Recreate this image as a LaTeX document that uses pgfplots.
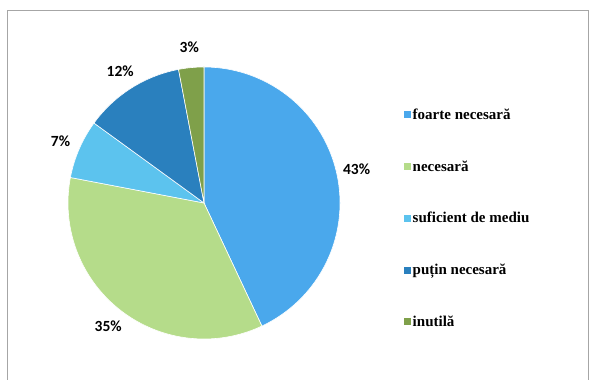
\documentclass[border=0pt]{standalone}
\usepackage{pgfplots}
\pgfplotsset{compat=1.18}
\usepackage{pgfplotstable}
\usepackage{fontspec}
\setmainfont{Liberation Serif}
\newfontfamily\pctfont{Carlito}
\definecolor{slice0}{HTML}{4AA8EC}
\definecolor{slice1}{HTML}{B5DC8A}
\definecolor{slice2}{HTML}{5CC3EE}
\definecolor{slice3}{HTML}{2A80BE}
\definecolor{slice4}{HTML}{7FA04A}
\pgfplotstableread{
value
43
35
7
12
3
}\piedata
\begin{document}
\begin{tikzpicture}
\begin{axis}[
  width=590pt, height=380pt, scale only axis,
  xmin=-1.5, xmax=2.838, ymin=-1.3015, ymax=1.4926,
  hide axis, clip=false,
  legend style={at={(axis cs:1.445,0.723)}, anchor=north west, draw=none, fill=none,
    font=\bfseries\fontsize{15}{17}\selectfont, row sep=35.7pt},
  legend cell align=left,
  legend image code/.code={\fill[#1,draw=none] (0pt,-3.5pt) rectangle (7pt,3.5pt);},
]
\def\angstart{90}
\pgfplotsforeachungrouped \i in {0,...,4}{
  \pgfplotstablegetelem{\i}{value}\of\piedata
  \let\val\pgfplotsretval
  \pgfmathsetmacro\angend{\angstart-3.6*\val}
  \pgfmathsetmacro\mid{(\angstart+\angend)/2}
  \pgfmathsetmacro\lx{1.15*cos(\mid)}
  \pgfmathsetmacro\ly{1.15*sin(\mid)}
  \pgfmathtruncatemacro\ival{\val}
  \edef\temp{\noexpand\addplot[fill=slice\i, draw=white, line width=0.6pt, domain=\angend:\angstart, samples=80, variable=\noexpand\t] ({cos(\noexpand\t)},{sin(\noexpand\t)}) -- (axis cs:0,0) -- cycle;
    \noexpand\node[font=\noexpand\pctfont\noexpand\bfseries\noexpand\fontsize{15.5}{17}\noexpand\selectfont] at (axis cs:\lx,\ly) {\ival\noexpand\%};}
  \temp
  \let\angstart\angend
}
\legend{foarte necesară, necesară, suficient de mediu, puțin necesară, inutilă}
\draw[gray!70, line width=0.8pt] (rel axis cs:0.0119,0) -- (rel axis cs:0.0119,0.9737) -- (rel axis cs:0.9966,0.9737) -- (rel axis cs:0.9966,0);
\end{axis}
\pgfresetboundingbox
\useasboundingbox (current axis.south west) rectangle (current axis.north east);
\end{tikzpicture}
\end{document}
